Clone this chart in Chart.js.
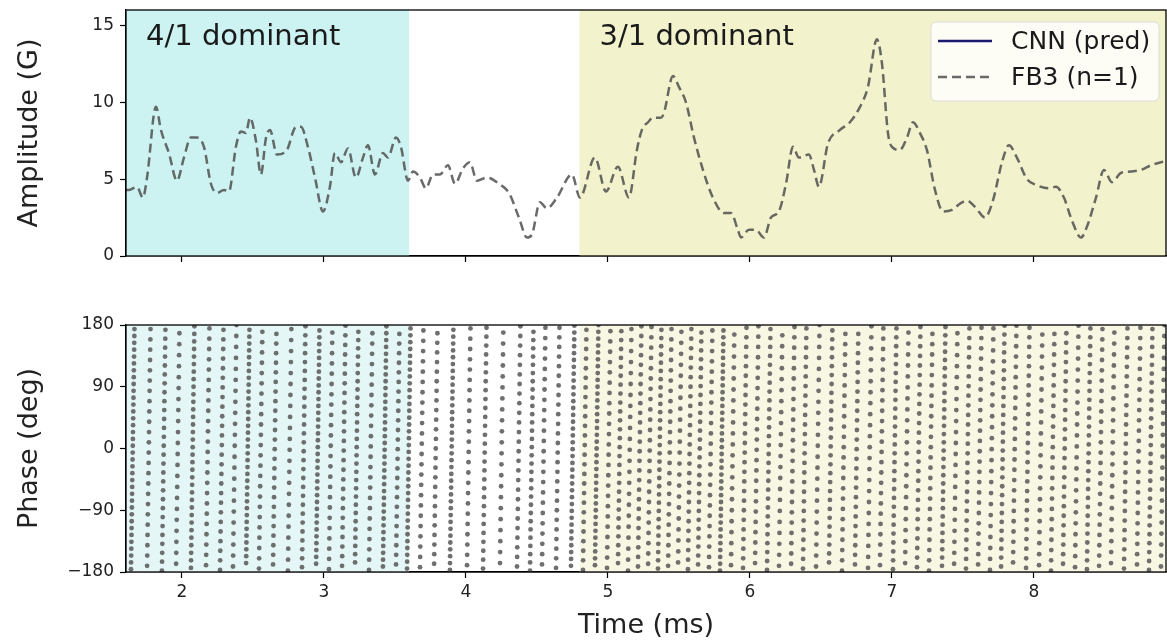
<!DOCTYPE html>
<html lang="en">
<head>
<meta charset="UTF-8">
<title>Amplitude and phase</title>
<script src="https://cdn.jsdelivr.net/npm/chart.js@4.4.0/dist/chart.umd.min.js"></script>
<style>
    html, body { margin: 0; padding: 0; background: #fff; }
    .wrap { position: relative; width: 1167px; height: 642px; }
    #amp { position: absolute; left: 0; top: 0; }
    #phase { position: absolute; left: 0; top: 300px; }
</style>
</head>
<body>
<div class="wrap">
    <canvas id="amp" width="1167" height="300" style="width:1167px;height:300px"></canvas>
    <canvas id="phase" width="1167" height="342" style="width:1167px;height:342px"></canvas>
</div>

<script>
// --- data ---
const timeTicks = [2, 3, 4, 5, 6, 7, 8];
const ampTicks = [0, 5, 10, 15];
const phaseTicks = [-180, -90, 0, 90, 180];

const regionNames = ['4/1 dominant', '3/1 dominant'];
const regionStart = [1.606, 4.8];
const regionEnd = [3.6, 8.95];

// FB3 (n=1) amplitude, gauss
const ampTime = [1.606, 1.627, 1.683, 1.725, 1.754, 1.817, 1.852, 1.908, 1.965, 2.014, 2.063, 2.106, 2.155, 2.204, 2.246, 2.296, 2.331, 2.380, 2.415, 2.451,
    2.479, 2.521, 2.556, 2.592, 2.620, 2.669, 2.739, 2.803, 2.838, 2.887, 2.937, 2.993, 3.042, 3.077, 3.120, 3.169, 3.225, 3.275, 3.310, 3.359,
    3.415, 3.451, 3.507, 3.542, 3.592, 3.627, 3.676, 3.718, 3.768, 3.817, 3.873, 3.923, 3.979, 4.028, 4.077, 4.148, 4.232, 4.303, 4.373, 4.430,
    4.465, 4.521, 4.570, 4.641, 4.746, 4.803, 4.908, 4.986, 5.070, 5.148, 5.204, 5.239, 5.282, 5.317, 5.373, 5.394, 5.458, 5.500, 5.549, 5.606,
    5.669, 5.739, 5.817, 5.866, 5.915, 5.937, 5.993, 6.042, 6.099, 6.148, 6.204, 6.254, 6.303, 6.345, 6.415, 6.451, 6.486, 6.549, 6.634, 6.704,
    6.775, 6.831, 6.894, 6.930, 6.972, 7.000, 7.056, 7.106, 7.148, 7.197, 7.246, 7.303, 7.359, 7.423, 7.479, 7.528, 7.585, 7.655, 7.711, 7.775,
    7.824, 7.880, 7.951, 8.021, 8.106, 8.155, 8.211, 8.268, 8.331, 8.373, 8.437, 8.493, 8.549, 8.613, 8.683, 8.754, 8.824, 8.894, 8.950];
const ampFB3 = [4.3, 4.3, 4.5, 3.8, 5.1, 9.7, 8.2, 6.7, 4.9, 6.4, 7.7, 7.7, 7.1, 4.7, 4.1, 4.3, 4.2, 7.1, 8.1, 8.0,
    9.0, 7.5, 5.3, 7.7, 8.2, 6.6, 6.9, 8.4, 8.4, 7.1, 5.1, 2.9, 4.5, 6.7, 6.1, 7.0, 5.1, 6.4, 7.2, 5.3,
    6.7, 6.4, 7.7, 7.1, 4.9, 5.5, 5.1, 4.4, 5.3, 5.3, 5.9, 4.7, 5.7, 6.1, 4.9, 5.1, 4.7, 4.1, 2.5, 1.2,
    1.4, 3.5, 3.1, 3.8, 5.3, 3.8, 6.4, 4.2, 5.8, 3.8, 6.9, 8.2, 8.7, 9.0, 9.0, 9.3, 11.7, 11.0, 10.0, 7.7,
    5.6, 3.8, 2.8, 2.8, 1.7, 1.2, 1.7, 1.7, 1.2, 2.5, 2.9, 4.7, 7.1, 6.4, 6.6, 5.6, 4.5, 7.3, 8.2, 8.7,
    9.7, 11.0, 14.1, 12.5, 8.0, 7.1, 6.9, 7.7, 8.7, 8.0, 6.9, 4.3, 2.9, 3.0, 3.4, 3.6, 3.2, 2.5, 3.6, 6.1,
    7.2, 6.4, 5.0, 4.6, 4.4, 4.5, 3.8, 2.3, 1.2, 1.9, 3.8, 5.6, 4.8, 5.4, 5.5, 5.6, 5.9, 6.1, 6.2];
const cnnPred = [];   // CNN (pred) is only in the legend

// phase scatter: each wrap stripe (time at -180 deg), spacing of its samples and first sample
const stripeTimes = [1.641, 1.754, 1.859, 1.958, 2.063, 2.169, 2.268, 2.359, 2.451, 2.542, 2.641, 2.746, 2.845, 2.944, 3.035, 3.127, 3.218, 3.317, 3.415, 3.507, 3.585,
    3.676, 3.775, 3.887, 4.007, 4.120, 4.239, 4.359, 4.451, 4.535, 4.634, 4.739,
    4.824, 4.908, 4.993, 5.070, 5.141, 5.211, 5.282, 5.352, 5.423, 5.493, 5.563, 5.634, 5.711, 5.789, 5.866, 5.951, 6.035, 6.120, 6.204, 6.289,
    6.373, 6.465, 6.556, 6.648, 6.739, 6.831, 6.915, 7.007, 7.092, 7.176, 7.261, 7.352, 7.437, 7.521, 7.606, 7.690, 7.768, 7.852, 7.944, 8.035,
    8.120, 8.204, 8.289, 8.373, 8.458, 8.542, 8.634, 8.725, 8.810, 8.894];
const stripeSteps = [10, 15, 13, 16, 11, 15, 14, 16, 10, 15, 14, 16, 13, 10, 15, 14, 12, 15, 10, 14, 10,
    15, 14, 10, 15, 13, 16, 14, 12, 15, 14, 10,
    14, 10, 15, 13, 16, 14, 15, 12, 15, 16, 14, 13, 15, 10, 16, 14, 15, 13, 16, 15,
    14, 16, 13, 15, 14, 16, 15, 13, 16, 14, 15, 12, 16, 14, 15, 16, 13, 15, 14, 16,
    15, 14, 16, 13, 15, 16, 14, 15, 13, 16];
const stripeStarts = [4, 9, 2, 12, 6, 10, 3, 8, 13, 5, 11, 2, 7, 12, 4, 9, 14, 3, 8, 11, 5,
    7, 12, 3, 10, 5, 13, 8, 2, 11, 6, 9,
    3, 10, 6, 13, 2, 8, 12, 5, 9, 14, 4, 11, 7, 2, 10, 6, 13, 3, 9, 12,
    5, 8, 14, 2, 11, 6, 10, 4, 13, 7, 2, 9, 12, 5, 11, 3, 8, 14, 6, 10,
    2, 12, 7, 4, 9, 13, 5, 11, 3, 8];
const stripeDrift = 0.025;   // ms a stripe leans over one full turn

// build scatter points along each stripe
let phasePts = [];
stripeTimes.forEach(function(t0, i) {
    for (let p = -180 + stripeStarts[i]; p <= 180; p += stripeSteps[i]) {
        phasePts.push({x: t0 + stripeDrift * (p + 180) / 360, y: p});
    }
});

const FONT = 'DejaVu Sans';
const minus = v => String(v).replace('-', '\u2212');

// shaded regions behind the data, plus the full axes box
const spanPlugin = {
    id: 'spans',
    beforeDatasetsDraw(chart, args, opts) {
        const ctx = chart.ctx, a = chart.chartArea, xs = chart.scales.x;
        ctx.save();
        regionStart.forEach(function(s, i) {
            let x1 = Math.max(xs.getPixelForValue(s), a.left);
            let x2 = Math.min(xs.getPixelForValue(regionEnd[i]), a.right);
            ctx.fillStyle = opts.colors[i];
            ctx.fillRect(x1, a.top, x2 - x1, a.bottom - a.top);
        });
        ctx.restore();
    },
    afterDraw(chart) {
        const ctx = chart.ctx, a = chart.chartArea;
        ctx.save();
        ctx.strokeStyle = '#000';
        ctx.lineWidth = 1.3;
        ctx.strokeRect(a.left, a.top, a.right - a.left, a.bottom - a.top);
        ctx.restore();
    }
};

// region names + legend on the amplitude panel
const notePlugin = {
    id: 'notes',
    afterDraw(chart) {
        const ctx = chart.ctx, a = chart.chartArea, xs = chart.scales.x;
        ctx.save();
        ctx.fillStyle = '#1a1a1a';
        ctx.font = '29px "' + FONT + '"';
        ctx.textBaseline = 'alphabetic';
        regionNames.forEach(function(n, i) {
            ctx.fillText(n, Math.max(xs.getPixelForValue(regionStart[i]), a.left) + 20, a.top + 35);
        });

        // legend box
        let bx = 931, by = 22, bw = 228, bh = 79;
        ctx.beginPath();
        ctx.roundRect(bx, by, bw, bh, 5);
        ctx.fillStyle = 'rgba(255,255,255,0.8)';
        ctx.fill();
        ctx.strokeStyle = '#dcdcdc';
        ctx.lineWidth = 1;
        ctx.stroke();

        const ds = chart.data.datasets;
        const rows = [41, 77];
        ds.forEach(function(d, i) {
            ctx.beginPath();
            ctx.setLineDash(d.borderDash || []);
            ctx.strokeStyle = d.borderColor;
            ctx.lineWidth = 2.5;
            ctx.moveTo(938, rows[i]);
            ctx.lineTo(992, rows[i]);
            ctx.stroke();
            ctx.setLineDash([]);
            ctx.fillStyle = '#1a1a1a';
            ctx.font = '25px "' + FONT + '"';
            ctx.textBaseline = 'middle';
            ctx.fillText(d.label, 1011, rows[i] + 1);
        });
        ctx.restore();
    }
};

function fixedTicks(list) {
    return function(s) { s.ticks = list.map(v => ({value: v})); };
}

const tickFont = {family: FONT, size: 17};
const titleFont = {family: FONT, size: 27};

new Chart(document.getElementById('amp'), {
    type: 'line',
    data: {
        datasets: [
            {label: 'CNN (pred)', data: cnnPred, borderColor: '#191970', borderWidth: 2.5, pointRadius: 0},
            {
                label: 'FB3 (n=1)',
                data: ampTime.map((t, i) => ({x: t, y: ampFB3[i]})),
                borderColor: 'rgba(80,80,80,0.85)',
                borderDash: [9, 5],
                borderWidth: 2.5,
                pointRadius: 0,
                cubicInterpolationMode: 'monotone'
            }
        ]
    },
    options: {
        responsive: false,
        animation: false,
        layout: {autoPadding: false, padding: {top: 10, right: 1, left: 0, bottom: 0}},
        plugins: {
            legend: {display: false},
            tooltip: {enabled: false},
            spans: {colors: ['#ccf2f2', '#f2f2cc']}
        },
        scales: {
            x: {
                type: 'linear', min: 1.606, max: 8.93,
                afterBuildTicks: fixedTicks(timeTicks),
                ticks: {display: false},
                grid: {drawOnChartArea: false, tickLength: 6, color: '#000', tickWidth: 1.2},
                border: {color: '#000', width: 1.3},
                afterFit: s => { s.height = 44; s.paddingLeft = 0; s.paddingRight = 0; }
            },
            y: {
                min: 0, max: 16,
                afterBuildTicks: fixedTicks(ampTicks),
                ticks: {font: tickFont, color: '#222', padding: 6},
                grid: {drawOnChartArea: false, tickLength: 6, color: '#000', tickWidth: 1.2},
                border: {color: '#000', width: 1.3},
                title: {display: true, text: 'Amplitude (G)', font: titleFont, color: '#222', padding: {top: 14, bottom: 0}},
                afterFit: s => { s.width = 126; s.paddingTop = 0; s.paddingBottom = 0; }
            }
        }
    },
    plugins: [spanPlugin, notePlugin]
});

new Chart(document.getElementById('phase'), {
    type: 'scatter',
    data: {
        datasets: [{
            label: 'phase',
            data: phasePts,
            backgroundColor: 'rgba(95,95,95,0.9)',
            borderWidth: 0,
            pointRadius: 2.4
        }]
    },
    options: {
        responsive: false,
        animation: false,
        layout: {autoPadding: false, padding: {top: 25, right: 1, left: 0, bottom: 0}},
        plugins: {
            legend: {display: false},
            tooltip: {enabled: false},
            spans: {colors: ['#e4f6f6', '#f8f7e4']}
        },
        scales: {
            x: {
                type: 'linear', min: 1.606, max: 8.93,
                afterBuildTicks: fixedTicks(timeTicks),
                ticks: {font: tickFont, color: '#222', padding: 4, maxRotation: 0},
                grid: {drawOnChartArea: false, tickLength: 6, color: '#000', tickWidth: 1.2},
                border: {color: '#000', width: 1.3},
                title: {display: true, text: 'Time (ms)', font: titleFont, color: '#222', padding: {top: 0, bottom: 0}},
                afterFit: s => { s.height = 70; s.paddingLeft = 0; s.paddingRight = 0; }
            },
            y: {
                min: -180, max: 180,
                afterBuildTicks: fixedTicks(phaseTicks),
                ticks: {font: tickFont, color: '#222', padding: 6, callback: v => minus(v)},
                grid: {drawOnChartArea: false, tickLength: 6, color: '#000', tickWidth: 1.2},
                border: {color: '#000', width: 1.3},
                title: {display: true, text: 'Phase (deg)', font: titleFont, color: '#222', padding: {top: 14, bottom: 0}},
                afterFit: s => { s.width = 126; s.paddingTop = 0; s.paddingBottom = 0; }
            }
        }
    },
    plugins: [spanPlugin]
});
</script>
</body>
</html>
